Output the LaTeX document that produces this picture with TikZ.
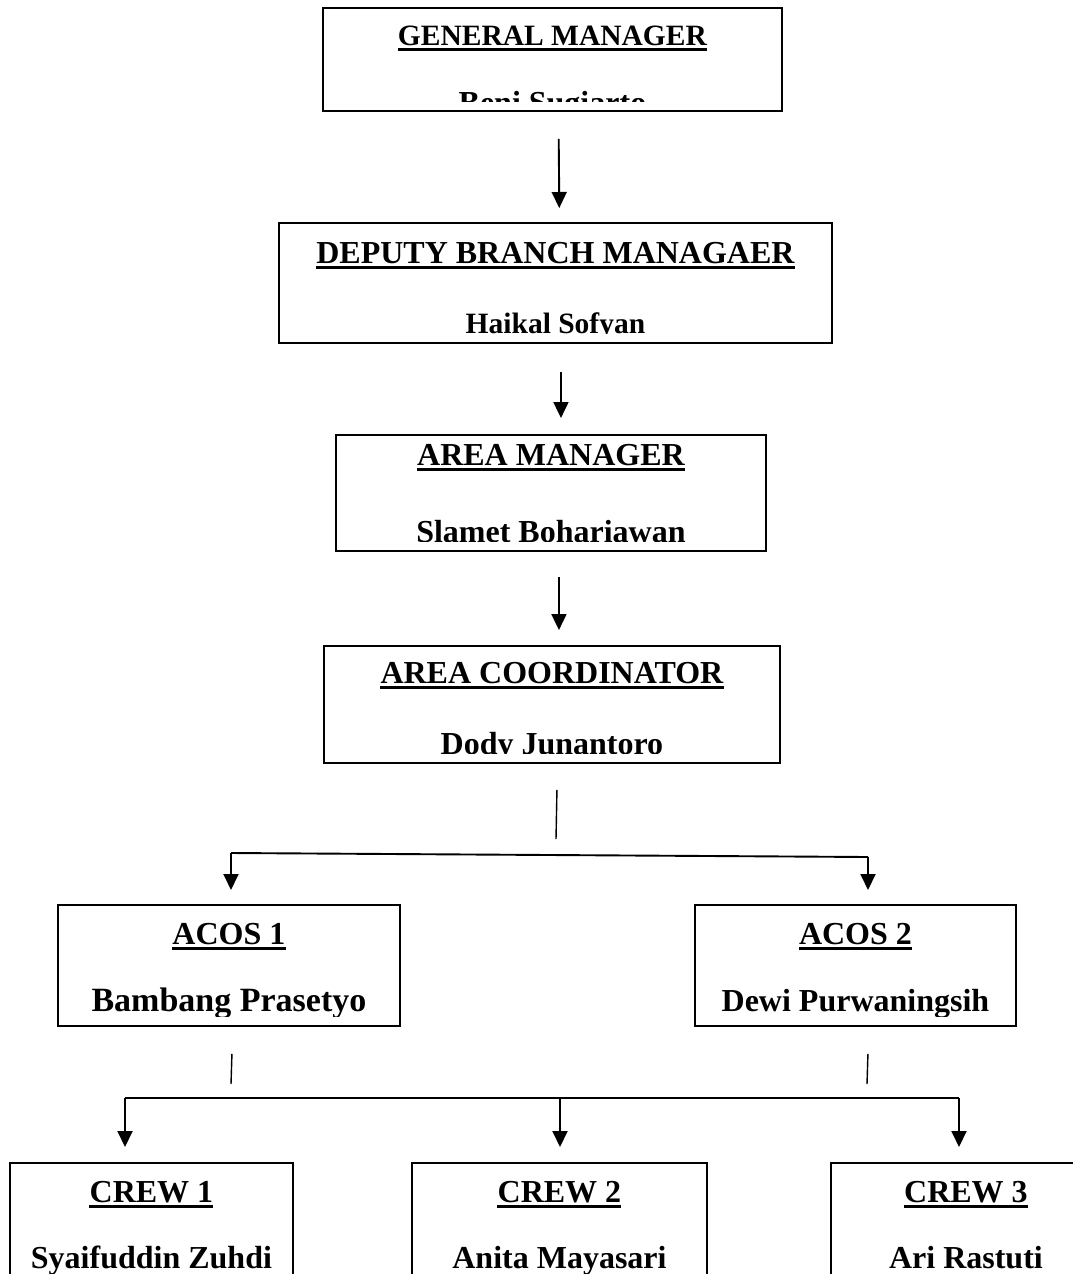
\documentclass[tikz,border=0pt]{standalone}
\usepackage{fontspec}
\setmainfont{Liberation Serif}
\usetikzlibrary{arrows.meta,calc}
\newcommand\tsz{32}
\newcommand\nsz{32}
\tikzset{
  orgframe/.style={draw, line width=1.9pt, inner sep=0pt},
  titletext/.style={inner sep=0pt, font=\fontsize{\tsz}{38}\selectfont\bfseries},
  nametext/.style={inner sep=0pt, font=\fontsize{\nsz}{38}\selectfont\bfseries},
  uline/.style={line width=2.6pt},
  conn/.style={line width=1.9pt},
  stub/.style={line width=1.4pt},
  arr/.style={line width=1.9pt, -{Triangle[width=15pt,length=16pt]}},
}
% #1 name, #2 x1, #3 y1, #4 x2, #5 y2, #6 title, #7 person, #8 title baseline, #9 name baseline
\newcommand\orgbox[9]{%
  \node[orgframe, anchor=north west, minimum width={#4-#2}, minimum height={#5-#3}] (#1) at (#2,#3) {};
  \node[titletext, anchor=base] (#1-t) at ($(#1.north)+(0,{#8-#3})$) {#6};
  \draw[uline] ([yshift=-4.5pt]#1-t.base west) -- ([yshift=-4.5pt]#1-t.base east);
  \begin{scope}
    \clip (#2,#3) rectangle (#4,{#5-9});
    \node[nametext, anchor=base] (#1-n) at ($(#1.north)+(0,{#9-#3})$) {#7};
  \end{scope}
}
\begin{document}
\begin{tikzpicture}[x=1pt, y=-1pt]
\useasboundingbox (0,0) rectangle (1073,1274);
\clip (0,0) rectangle (1073,1274);

\renewcommand\tsz{29.5}
\orgbox{gm}{322}{7}{781}{110}{GENERAL MANAGER}{Beni Sugiarto}{45}{113}
\renewcommand\tsz{32}
\renewcommand\nsz{29.5}
\orgbox{dbm}{278}{222}{831}{342}{DEPUTY BRANCH MANAGAER}{Haikal Sofyan}{263}{333}
\renewcommand\nsz{32}
\orgbox{am}{335}{434}{765}{550}{AREA MANAGER}{Slamet Bohariawan}{465}{542}
\orgbox{ac}{323}{645}{779}{762}{AREA COORDINATOR}{Dody Junantoro}{683}{754}
\renewcommand\nsz{34}
\orgbox{acosa}{57}{904}{399}{1025}{ACOS 1}{Bambang Prasetyo}{944}{1011}
\renewcommand\nsz{32}
\orgbox{acosb}{694}{904}{1015}{1025}{ACOS 2}{Dewi Purwaningsih}{944}{1011}
\orgbox{crewa}{9}{1162}{292}{1320}{CREW 1}{Syaifuddin Zuhdi}{1202}{1268}
\orgbox{crewb}{411}{1162}{706}{1320}{CREW 2}{Anita Mayasari}{1202}{1268}
\orgbox{crewc}{830}{1162}{1100}{1320}{CREW 3}{Ari Rastuti}{1202}{1268}

% vertical chain
\draw[arr, shorten <=27pt, shorten >=14pt] ([xshift=6pt]gm.south) -- ([xshift=4pt]dbm.north);
\draw[arr, shorten <=28pt, shorten >=16pt] ([xshift=5.5pt]dbm.south) -- ([xshift=10pt]am.north);
\draw[arr, shorten <=25pt, shorten >=15pt] ([xshift=8pt]am.south) -- ([xshift=7pt]ac.north);

% area coordinator to ACOS
\coordinate (acstub) at (556,839);
\coordinate (busal) at (231,853);
\coordinate (busar) at (868,857);
\draw[stub] ([xshift=5pt,yshift=-26pt]ac.south) -- (acstub);
\draw[conn] (busal) -- (busar);
\draw[arr, shorten >=14pt] (busal) -- (busal |- acosa.north);
\draw[arr, shorten >=14pt] (busar) -- (busar |- acosb.north);

% ACOS to crews
\coordinate (stuba) at (231,1084);
\coordinate (stubb) at (867,1084);
\draw[stub] ([xshift=3pt,yshift=-27pt]acosa.south) -- (stuba);
\draw[stub] ([xshift=12.5pt,yshift=-27pt]acosb.south) -- (stubb);
\coordinate (busbl) at (125,1098);
\coordinate (busbm) at (560,1098);
\coordinate (busbr) at (959,1098);
\draw[conn] (busbl) -- (busbr);
\draw[arr, shorten >=15pt] (busbl) -- (busbl |- crewa.north);
\draw[arr, shorten >=15pt] (busbm) -- (busbm |- crewb.north);
\draw[arr, shorten >=15pt] (busbr) -- (busbr |- crewc.north);
\end{tikzpicture}
\end{document}
